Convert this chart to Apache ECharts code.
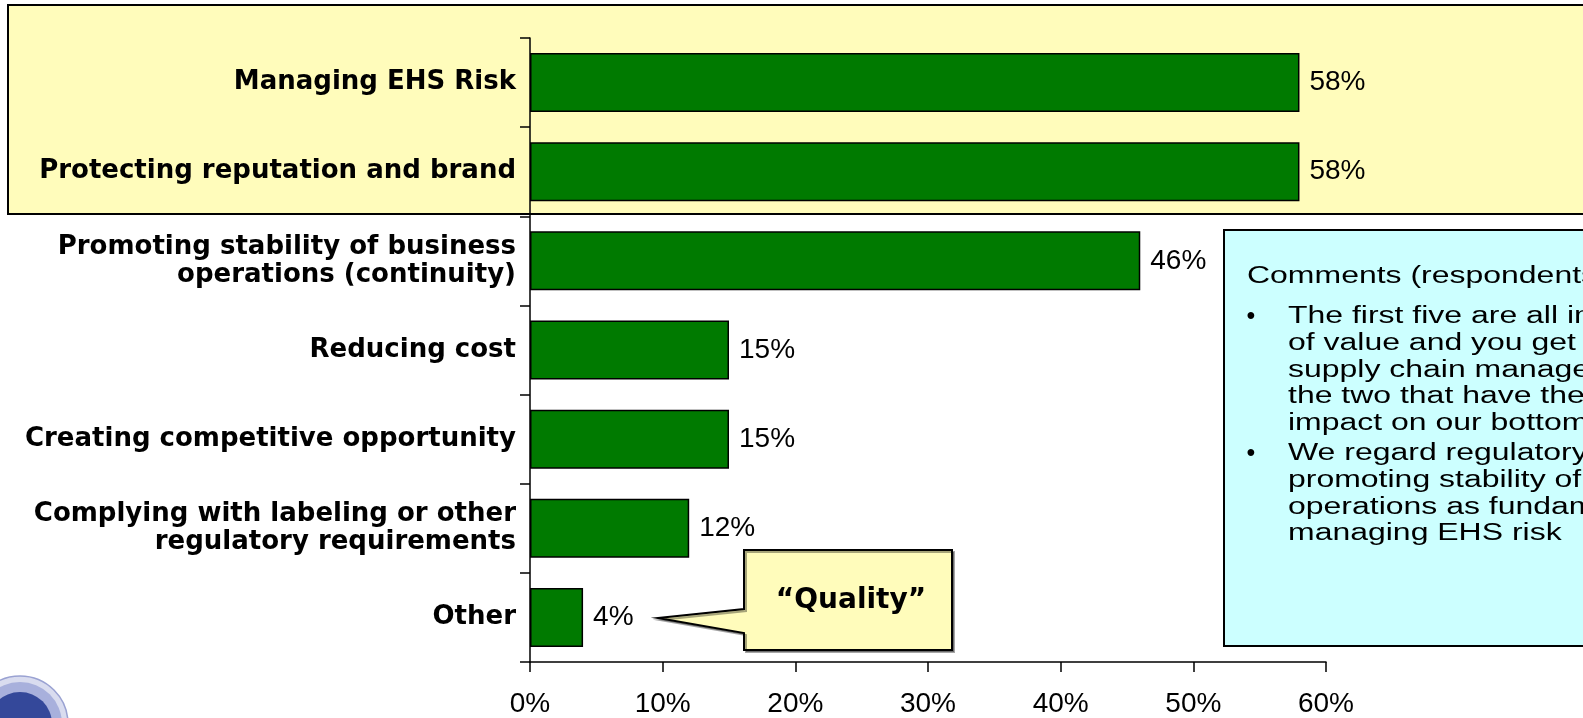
<!DOCTYPE html>
<html>
<head>
<meta charset="utf-8">
<title>Value drivers</title>
<script src="https://cdn.jsdelivr.net/npm/echarts@6/dist/echarts.min.js"></script>
<style>
  html, body { margin: 0; padding: 0; background: #ffffff; }
  #chart { width: 1583px; height: 718px; }
</style>
</head>
<body>
<div id="chart"></div>
<script>
// Survey categories, listed top to bottom
const categories = [
  'Managing EHS Risk',
  'Protecting reputation and brand',
  'Promoting stability of business\noperations (continuity)',
  'Reducing cost',
  'Creating competitive opportunity',
  'Complying with labeling or other\nregulatory requirements',
  'Other'
];

// Share of respondents (%) per category
const shares = [58, 58, 46, 15, 15, 12, 4];

// Value axis range and step (%)
const axisMin = 0;
const axisMax = 60;
const axisStep = 10;

// Callout text next to the "Other" bar
const calloutText = '\u201CQuality\u201D';

// Comments panel text
const commentTitle = 'Comments (respondents):';
const commentBullets = [
  ['The first five are all important sources',
   'of value and you get them all through',
   'supply chain management, but these are',
   'the two that have the most direct',
   'impact on our bottom line'],
  ['We regard regulatory compliance and',
   'promoting stability of business',
   'operations as fundamental to',
   'managing EHS risk']
];

const ARIAL = '"Liberation Sans", Arial, Helvetica, sans-serif';
const WIDE_BOLD = '"DejaVu Sans", "Liberation Sans", Arial, sans-serif';
// The panel typeface is set wide: regular Arial stretched horizontally
const PANEL_FONT = 23;
const PANEL_STRETCH = 1.39;

const chart = echarts.init(document.getElementById('chart'), null, { renderer: 'canvas' });

function panelText(x, y, text) {
  return {
    type: 'text',
    z: 101,
    x: x,
    y: y,
    scaleX: PANEL_STRETCH,
    scaleY: 1,
    style: {
      x: 0, y: 0, text: text,
      fontSize: PANEL_FONT, fontFamily: ARIAL, fill: '#000000',
      verticalAlign: 'middle', align: 'left'
    }
  };
}

// Comments panel: box plus one text element per line
const commentEls = [];
commentEls.push({
  type: 'rect',
  z: 100,
  shape: { x: 1224, y: 230, width: 420, height: 416 },
  style: { fill: '#CCFFFF', stroke: '#000000', lineWidth: 2 }
});
commentEls.push(panelText(1247, 277, commentTitle));
let lineY = 317;
commentBullets.forEach(function (lines, bi) {
  if (bi > 0) lineY += 3.5;
  commentEls.push({
    type: 'text',
    z: 101,
    style: {
      x: 1251, y: lineY, text: '\u2022',
      fontSize: 25, fontFamily: ARIAL, fill: '#000000',
      verticalAlign: 'middle', align: 'center'
    }
  });
  lines.forEach(function (t) {
    commentEls.push(panelText(1288, lineY, t));
    lineY += 26.7;
  });
});

const option = {
  backgroundColor: '#ffffff',
  animation: false,
  grid: { left: 530, right: 257, top: 38, bottom: 56, containLabel: false },
  xAxis: {
    type: 'value',
    min: axisMin,
    max: axisMax,
    interval: axisStep,
    axisLine: { show: true, lineStyle: { color: '#000000', width: 1.5 } },
    axisTick: { show: true, length: 10, lineStyle: { color: '#000000', width: 1.5 } },
    splitLine: { show: false },
    axisLabel: {
      formatter: '{value}%',
      fontSize: 28,
      fontFamily: ARIAL,
      color: '#000000',
      margin: 28
    }
  },
  yAxis: {
    type: 'category',
    inverse: true,
    data: categories,
    axisLine: { show: true, lineStyle: { color: '#000000', width: 1.5 } },
    axisTick: { show: true, length: 10, alignWithLabel: false, lineStyle: { color: '#000000', width: 1.5 } },
    axisLabel: {
      fontSize: 26,
      fontWeight: 'bold',
      fontFamily: WIDE_BOLD,
      color: '#000000',
      margin: 14,
      lineHeight: 28,
      align: 'right'
    }
  },
  series: [{
    type: 'bar',
    data: shares,
    barWidth: 59,
    itemStyle: { color: '#007A00', borderColor: '#000000', borderWidth: 1.5 },
    label: {
      show: true,
      position: 'right',
      distance: 10,
      formatter: '{c}%',
      fontSize: 28,
      fontFamily: ARIAL,
      color: '#000000'
    },
    z: 5
  }],
  graphic: {
    elements: [
      // Highlight band behind the two leading categories
      {
        type: 'rect',
        z: -10,
        silent: true,
        shape: { x: 8, y: 5, width: 1620, height: 209 },
        style: { fill: '#FFFCBB', stroke: '#000000', lineWidth: 2 }
      },
      // Speech-bubble callout pointing at the "Other" value
      {
        type: 'polygon',
        z: 100,
        shape: {
          points: [
            [744, 550], [952, 550], [952, 650], [744, 650],
            [744, 633], [658, 618], [744, 609]
          ]
        },
        style: {
          fill: '#FFFCBB', stroke: '#000000', lineWidth: 2,
          shadowColor: 'rgba(0,0,0,0.35)', shadowOffsetX: 2, shadowOffsetY: 2, shadowBlur: 0
        }
      },
      {
        type: 'text',
        z: 101,
        style: {
          x: 851, y: 601, text: calloutText,
          fontSize: 28, fontWeight: 'bold', fontFamily: WIDE_BOLD, fill: '#000000',
          verticalAlign: 'middle', align: 'center'
        }
      },
      // Seal emblem in the lower-left corner
      {
        type: 'circle',
        z: 50,
        silent: true,
        shape: { cx: 20, cy: 724, r: 48 },
        style: { fill: '#D9DCEF', stroke: '#9AA2D2', lineWidth: 1.5 }
      },
      {
        type: 'circle',
        z: 51,
        silent: true,
        shape: { cx: 20, cy: 724, r: 42 },
        style: { fill: '#A8B0DC' }
      },
      {
        type: 'circle',
        z: 52,
        silent: true,
        shape: { cx: 20, cy: 724, r: 32 },
        style: { fill: '#34489A' }
      }
    ].concat(commentEls)
  }
};

chart.setOption(option);
</script>
</body>
</html>
